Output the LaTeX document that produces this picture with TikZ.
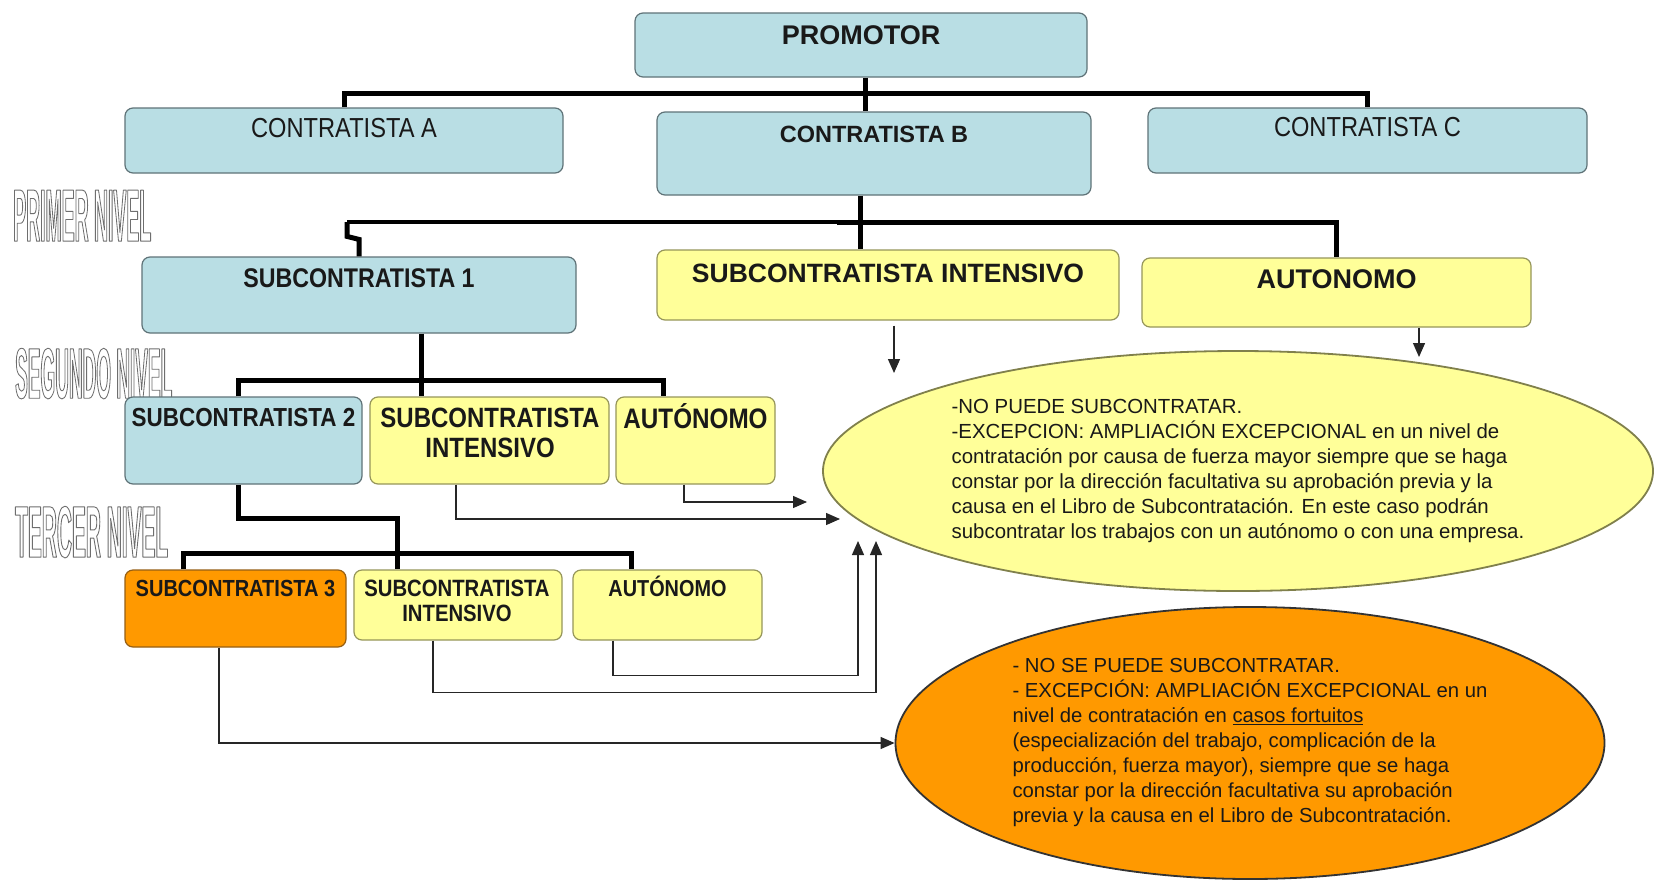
\documentclass[tikz,border=0pt]{standalone}
\usepackage{graphicx}
\usepackage{fontspec}
\setmainfont{Liberation Sans}
\newfontfamily\nar[FakeStretch=0.86]{Liberation Sans}
\newfontfamily\lvlfont[FakeStretch=0.3]{Liberation Sans}
\usetikzlibrary{arrows.meta,shapes.geometric}
\definecolor{boxblue}{RGB}{185,222,228}
\definecolor{boxyellow}{RGB}{255,255,153}
\definecolor{boxorange}{RGB}{255,153,0}
\definecolor{blueedge}{RGB}{95,115,120}
\definecolor{yellowedge}{RGB}{150,150,90}
\definecolor{orangeedge}{RGB}{150,95,20}
\definecolor{txt}{RGB}{25,25,25}
\definecolor{lvlgray}{RGB}{110,110,110}
\newcommand{\outl}[1]{\special{pdf:literal q 1 Tr 1 j 1 J 0.9 w}#1\special{pdf:literal Q}}
\newcommand{\lvltext}[3]{\resizebox{#1pt}{#2pt}{\lvlfont\bfseries\fontsize{71}{71}\selectfont\outl{#3}}}
\begin{document}
\begin{tikzpicture}[x=1pt,y=-1pt,
  box/.style={draw, rounded corners=8pt, line width=1.2pt, inner sep=0pt, text=txt},
  bluebox/.style={box, fill=boxblue, draw=blueedge},
  yelbox/.style={box, fill=boxyellow, draw=yellowedge},
  orabox/.style={box, fill=boxorange, draw=orangeedge},
  bar/.style={line width=5pt, draw=black},
  midbar/.style={line width=3.5pt, draw=black},
  arr/.style={line width=1.3pt, draw=black!85, -{Triangle[length=14pt,width=12pt]}},
  lvl/.style={anchor=north west, inner sep=0pt, text=lvlgray},
  btext/.style={text=txt, align=center, inner sep=0pt},
]
\fill[white] (0,0) rectangle (1656,881);
\useasboundingbox (0,0) rectangle (1656,881);

% level labels
\node[lvl] (n1) at (13,190) {\lvltext{138}{51}{PRIMER NIVEL}};
\node[lvl] (n2) at (15,348) {\lvltext{157}{50}{SEGUNDO NIVEL}};
\node[lvl] (n3) at (15,506) {\lvltext{153}{51}{TERCER NIVEL}};

% top
\node[bluebox, minimum width=452, minimum height=64, text height=19.3, text depth=20, font=\bfseries\fontsize{27}{30}\selectfont] (prom) at (861,45) {PROMOTOR};
\node[bluebox, minimum width=438, minimum height=65, text height=19.7, text depth=26, font=\nar\fontsize{27.5}{30}\selectfont] (ca) at (344,140.5) {CONTRATISTA A};
\node[bluebox, minimum width=434, minimum height=83, text height=16.8, text depth=39, font=\bfseries\fontsize{23.5}{28}\selectfont] (cb) at (874,153.5) {CONTRATISTA B};
\node[bluebox, minimum width=439, minimum height=65, text height=19.7, text depth=27, font=\nar\fontsize{27.5}{30}\selectfont] (cc) at (1367.5,140.5) {CONTRATISTA C};

% first level
\node[bluebox, minimum width=434, minimum height=76, text height=19.3, text depth=34, font=\nar\bfseries\fontsize{27}{30}\selectfont] (sub1) at (359,295) {SUBCONTRATISTA 1};
\node[yelbox, minimum width=462, minimum height=70, text height=19, text depth=25, font=\bfseries\fontsize{26.5}{30}\selectfont] (sint1) at (888,285) {SUBCONTRATISTA INTENSIVO};
\node[yelbox, minimum width=389, minimum height=69, text height=19.3, text depth=27, font=\bfseries\fontsize{27}{30}\selectfont] (aut1) at (1336.5,292.5) {AUTONOMO};

% second level
\node[bluebox, minimum width=237, minimum height=87, text height=18.7, text depth=47, font=\nar\bfseries\fontsize{26.1}{30}\selectfont] (sub2) at (243.5,440.5) {SUBCONTRATISTA 2};
\node[yelbox, minimum width=239, minimum height=87] (sint2) at (489.5,440.5) {};
\node[btext, font=\nar\bfseries\fontsize{27.9}{30}\selectfont] (sint2t) at (490,433) {SUBCONTRATISTA\\INTENSIVO};
\node[yelbox, minimum width=159, minimum height=87, text height=20.2, text depth=45, font=\nar\bfseries\fontsize{28.2}{30}\selectfont] (aut2) at (695.5,440.5) {AUTÓNOMO};

% third level
\node[orabox, minimum width=221, minimum height=77, text height=16.7, text depth=41, font=\nar\bfseries\fontsize{23.3}{26}\selectfont] (sub3) at (235.5,608.5) {SUBCONTRATISTA 3};
\node[yelbox, minimum width=208, minimum height=70] (sint3) at (458,605) {};
\node[btext, font=\nar\bfseries\fontsize{23.6}{25}\selectfont] (sint3t) at (457,600.5) {SUBCONTRATISTA\\INTENSIVO};
\node[yelbox, minimum width=189, minimum height=70, text height=16.5, text depth=34, font=\nar\bfseries\fontsize{23.1}{26}\selectfont] (aut3) at (667.5,605) {AUTÓNOMO};

% ellipses
\node[ellipse, draw=yellowedge!85!black, line width=1.8pt, fill=boxyellow, minimum width=830, minimum height=240, inner sep=0pt, align=left, text=txt, font=\fontsize{20.4}{25}\selectfont] (ye) at (1238,471) {-NO PUEDE SUBCONTRATAR.\\-EXCEPCION: AMPLIACIÓN EXCEPCIONAL en un nivel de\\contratación por causa de fuerza mayor siempre que se haga\\constar por la dirección facultativa su aprobación previa y la\\causa en el Libro de Subcontratación. En este caso podrán\\subcontratar los trabajos con un autónomo o con una empresa.};
\node[ellipse, draw=black!80, line width=1.8pt, fill=boxorange, minimum width=709, minimum height=272, inner sep=0pt, align=left, text=txt, font=\fontsize{20.3}{25}\selectfont] (oe) at (1250,743) {- NO SE PUEDE SUBCONTRATAR.\\- EXCEPCIÓN: AMPLIACIÓN EXCEPCIONAL en un\\nivel de contratación en \underline{casos fortuitos}\\(especialización del trabajo, complicación de la\\producción, fuerza mayor), siempre que se haga\\constar por la dirección facultativa su aprobación\\previa y la causa en el Libro de Subcontratación.};

% bus coordinates and free ends
\coordinate (busA) at (0,93);
\coordinate (busB) at (837,222);
\coordinate (jog) at (347,222);
\coordinate (busC) at (0,380);
\coordinate (busD) at (0,553);
\coordinate (ea) at (894,373);
\coordinate (eb) at (1419,357);
\coordinate (ec) at (807,502);
\coordinate (ed) at (840,519);
\coordinate (ee) at (858,541);
\coordinate (ef) at (876,541);

% tree connectors
\draw[bar] (ca.north) -- (ca.north |- busA) -- (cc.north |- busA) -- (cc.north);
\draw[bar] ([xshift=4pt]prom.south) -- ([xshift=4pt]prom.south |- cb.north);
\draw[bar] ([xshift=-14pt]cb.south) -- ([xshift=-14pt]cb.south |- sint1.north);
\draw[bar] (busB) -| (aut1.north);
\draw[midbar] (busB) -- (jog);
\draw[bar] (sub1.north) -- ++(0,-17) -- ++(-12,-3) -- (jog);
\draw[bar] ([xshift=62pt]sub1.south) -- ([xshift=62pt]sub1.south |- sint2.north);
\draw[bar] ([xshift=-5.5pt]sub2.north) -- ([xshift=-5.5pt]sub2.north |- busC) -| ([xshift=-32.5pt]aut2.north);
\draw[bar] ([xshift=-5.5pt]sub2.south) -- ++(0,34) -| ([xshift=-61pt]sint3.north);
\draw[bar] ([xshift=-52.5pt]sub3.north) -- ([xshift=-52.5pt]sub3.north |- busD) -| ([xshift=-36.5pt]aut3.north);

% arrows
\draw[arr, shorten <=5pt] ([xshift=6pt]sint1.south) -- (ea);
\draw[arr] ([xshift=82.5pt]aut1.south) -- (eb);
\draw[arr] ([xshift=-11.5pt]aut2.south) |- (ec);
\draw[arr] ([xshift=-33.5pt]sint2.south) |- (ed);
\draw[arr] ([xshift=-54.5pt]aut3.south) -- ++(0,35) -| (ee);
\draw[arr] ([xshift=-25pt]sint3.south) -- ++(0,52) -| (ef);
\draw[arr] ([xshift=-16.5pt]sub3.south) |- (oe.west);
\end{tikzpicture}
\end{document}
